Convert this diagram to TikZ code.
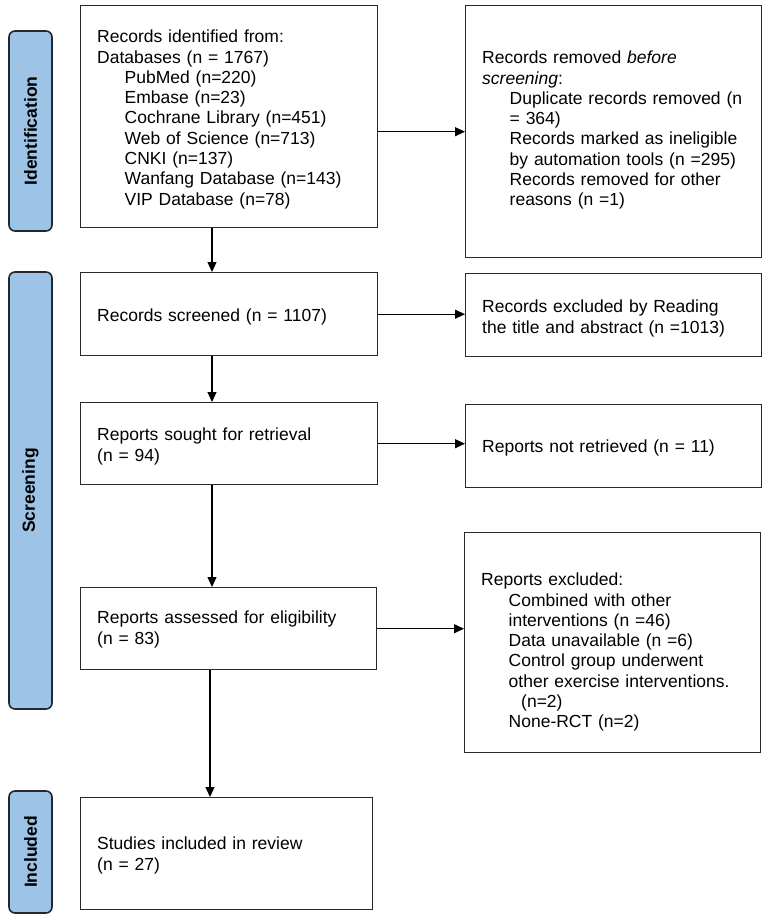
\documentclass[tikz,border=0pt]{standalone}
\usepackage{fontspec}
\setmainfont{Liberation Sans}
\usetikzlibrary{arrows.meta}
\definecolor{bandblue}{RGB}{157,195,230}
\definecolor{bandline}{RGB}{35,40,48}
\definecolor{boxline}{RGB}{40,40,40}
\newcommand{\ind}{\hspace*{27.5pt}}
\begin{document}
\begin{tikzpicture}[x=1pt,y=-1pt,
  flowbox/.style={draw=boxline, line width=1.4pt, anchor=north west,
    inner xsep=16.5pt, inner ysep=0pt, align=left,
    font=\fontsize{17.5}{20.3}\selectfont, fill=white},
  band/.style={draw=bandline, fill=bandblue, line width=1.6pt,
    rounded corners=6pt, rotate=90, minimum height=43pt, inner sep=0pt,
    font=\fontsize{17.5}{20}\selectfont\bfseries},
  arr/.style={draw=black, line width=1.1pt, -{Triangle[length=10pt,width=9pt]}}
]
\useasboundingbox (0,0) rectangle (767,924);

% phase bands
\node[band, minimum width=200pt] (L1) at (30.5,131) {Identification};
\node[band, minimum width=437pt] (L2) at (30.5,490.5) {Screening};
\node[band, minimum width=122pt] (L3) at (30.5,852) {Included};

% left column
\node[flowbox, text width=264pt, text height=37pt, text depth=185pt] (B1) at (80,5)
  {Records identified from:\\
   Databases (n = 1767)\\
   \ind PubMed (n=220)\\
   \ind Embase (n=23)\\
   \ind Cochrane Library (n=451)\\
   \ind Web of Science (n=713)\\
   \ind CNKI (n=137)\\
   \ind Wanfang Database (n=143)\\
   \ind VIP Database (n=78)};
\node[flowbox, text width=264pt, text height=48.5pt, text depth=34.5pt] (B2) at (80,272)
  {Records screened (n = 1107)};
\node[flowbox, text width=264pt, text height=38pt, text depth=44pt] (B3) at (80,402)
  {Reports sought for retrieval\\(n = 94)};
\node[flowbox, text width=263pt, text height=36pt, text depth=46pt] (B4) at (80,587)
  {Reports assessed for eligibility\\(n = 83)};
\node[flowbox, text width=259pt, text height=52pt, text depth=60pt] (B5) at (80,797)
  {Studies included in review\\(n = 27)};

% right column
\node[flowbox, text width=263pt, text height=58pt, text depth=194pt] (R1) at (465,5)
  {Records removed \textit{before}\\
   \textit{screening}:\\
   \ind Duplicate records removed (n\\
   \ind = 364)\\
   \ind Records marked as ineligible\\
   \ind by automation tools (n =295)\\
   \ind Records removed for other\\
   \ind reasons (n =1)};
\node[flowbox, text width=263pt, text height=39pt, text depth=44pt] (R2) at (465,273)
  {Records excluded by Reading\\the title and abstract (n =1013)};
\node[flowbox, text width=263pt, text height=48pt, text depth=35pt] (R3) at (465,404)
  {Reports not retrieved (n = 11)};
\node[flowbox, text width=263pt, text height=53pt, text depth=167pt] (R4) at (464,532)
  {Reports excluded:\\
   \ind Combined with other\\
   \ind interventions (n =46)\\
   \ind Data unavailable (n =6)\\
   \ind Control group underwent\\
   \ind other exercise interventions.\\
   \hspace*{40pt}(n=2)\\
   \ind None-RCT (n=2)};

% connectors
\coordinate (ax) at (212,0);
\coordinate (bx) at (210,0);
\draw[arr] (B1.south -| ax) -- (B2.north -| ax);
\draw[arr] (B2.south -| ax) -- (B3.north -| ax);
\draw[arr] (B3.south -| ax) -- (B4.north -| ax);
\draw[arr] (B4.south -| bx) -- (B5.north -| bx);
\draw[arr] (B1.east |- R1.west) -- (R1.west);
\draw[arr] (B2.east) -- (R2.west |- B2.east);
\draw[arr] (B3.east) -- (R3.west |- B3.east);
\draw[arr] (B4.east) -- (R4.west |- B4.east);
\end{tikzpicture}
\end{document}
